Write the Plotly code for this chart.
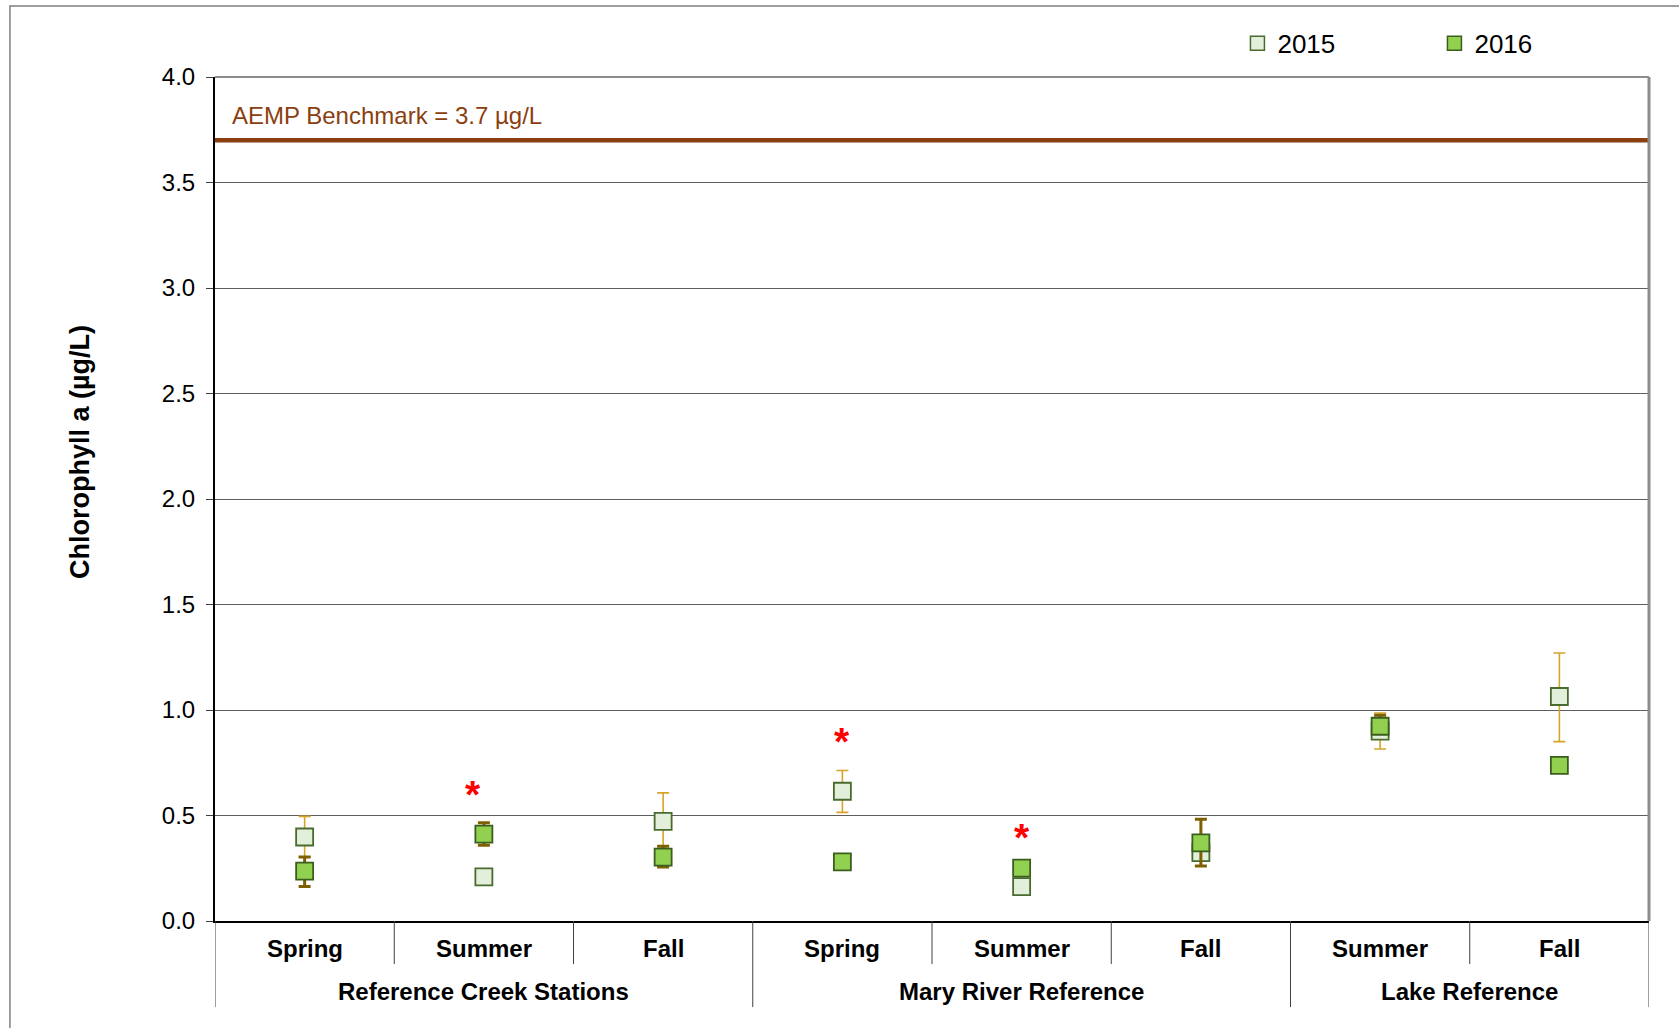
import plotly.graph_objects as go

# Sampling periods (x positions 0..7) grouped by station area
seasons = ["Spring", "Summer", "Fall", "Spring", "Summer", "Fall", "Summer", "Fall"]
areas = ["Reference Creek Stations", "Mary River Reference", "Lake Reference"]
area_spans = [(0, 2), (3, 5), (6, 7)]

# Mean chlorophyll a (µg/L) with upper / lower error lengths
chl_2015 = [0.398, 0.209, 0.472, 0.615, 0.163, 0.324, 0.900, 1.064]
err_2015_plus = [0.098, 0.0, 0.135, 0.098, 0.0, 0.03, 0.086, 0.206]
err_2015_minus = [0.095, 0.0, 0.118, 0.100, 0.0, 0.03, 0.085, 0.214]

chl_2016 = [0.236, 0.412, 0.303, 0.280, 0.251, 0.370, 0.923, 0.738]
err_2016_plus = [0.067, 0.054, 0.051, 0.0, 0.0, 0.112, 0.052, 0.0]
err_2016_minus = [0.072, 0.053, 0.047, 0.0, 0.0, 0.109, 0.03, 0.0]

# Significant-difference flags (position index, height of the asterisk)
flag_x = [1, 3, 4]
flag_y = [0.62, 0.869, 0.414]
flag_xshift = [-11, 0, 0]

benchmark = 3.7
benchmark_label = "AEMP Benchmark = 3.7 µg/L"

y_ticks = [0.0, 0.5, 1.0, 1.5, 2.0, 2.5, 3.0, 3.5, 4.0]

FONT = "Liberation Sans, Arial, sans-serif"
x_pos = list(range(len(seasons)))

STYLE_2015 = dict(fill="#E2EFDA", edge="#4A6B2E", err="#D4A52A", err_w=1.6)
STYLE_2016 = dict(fill="#92D050", edge="#3B5E1F", err="#7F6000", err_w=3)

fig = go.Figure()

for year, vals, ep, em, st in [("2015", chl_2015, err_2015_plus, err_2015_minus, STYLE_2015),
                               ("2016", chl_2016, err_2016_plus, err_2016_minus, STYLE_2016)]:
    fig.add_trace(go.Scatter(
        x=x_pos, y=vals, mode="markers", name=year, showlegend=False,
        marker=dict(symbol="square", size=17, color=st["fill"],
                    line=dict(color=st["edge"], width=1.8)),
        error_y=dict(type="data", symmetric=False, array=ep, arrayminus=em,
                     color=st["err"], thickness=st["err_w"], width=6),
    ))
    # legend key with a smaller square
    fig.add_trace(go.Scatter(
        x=[None], y=[None], mode="markers", name=year, showlegend=True,
        marker=dict(symbol="square", size=14, color=st["fill"],
                    line=dict(color=st["edge"], width=1.5)),
    ))

shapes = []
annotations = []

# Benchmark line and label
shapes.append(dict(type="line", xref="paper", x0=0, x1=1, yref="y",
                   y0=benchmark, y1=benchmark,
                   line=dict(color="#8B3F10", width=4.5)))
annotations.append(dict(text=benchmark_label, xref="paper", x=0, xanchor="left",
                        xshift=15, yref="y", y=benchmark, yanchor="middle",
                        yshift=25, showarrow=False,
                        font=dict(family=FONT, size=24, color="#8B3F10")))

# Top and right frame of the plot area
shapes.append(dict(type="line", xref="paper", x0=0, x1=1, yref="paper", y0=1, y1=1,
                   line=dict(color="#8C8C8C", width=2)))
shapes.append(dict(type="line", xref="paper", x0=1, x1=1, yref="paper", y0=0, y1=1,
                   line=dict(color="#8C8C8C", width=3)))

# Category dividers below the axis
inner_bounds = [0.5, 1.5, 3.5, 4.5, 6.5]
outer_bounds = [-0.5, 2.5, 5.5, 7.5]
for b in inner_bounds:
    shapes.append(dict(type="line", xref="x", x0=b, x1=b, yref="paper",
                       y0=0, y1=-0.051, line=dict(color="#404040", width=1)))
for b in outer_bounds:
    shapes.append(dict(type="line", xref="x", x0=b, x1=b, yref="paper",
                       y0=0, y1=-0.102, line=dict(color="#404040", width=1)))

# Season and area labels
for i, s in enumerate(seasons):
    annotations.append(dict(text=s, xref="x", x=i, yref="paper", y=-0.033,
                            yanchor="middle", showarrow=False,
                            font=dict(family=FONT, size=24, color="black",
                                      weight="bold")))
for name, (a, b) in zip(areas, area_spans):
    annotations.append(dict(text=name, xref="x", x=(a + b) / 2, yref="paper",
                            y=-0.083, yanchor="middle", showarrow=False,
                            font=dict(family=FONT, size=24, color="black",
                                      weight="bold")))

# Asterisks marking significant differences
for xi, yi, xs in zip(flag_x, flag_y, flag_xshift):
    annotations.append(dict(text="*", xref="x", x=xi, yref="y", y=yi,
                            yanchor="middle", xshift=xs, yshift=-4,
                            showarrow=False,
                            font=dict(family=FONT, size=39, color="#FF0000",
                                      weight="bold")))

# Y-axis title
annotations.append(dict(text="Chlorophyll a (µg/L)", xref="paper", x=-0.094,
                        yref="paper", y=0.556, textangle=-90, showarrow=False,
                        xanchor="center", yanchor="middle",
                        font=dict(family=FONT, size=27, color="black",
                                  weight="bold")))

# Outer chart border
shapes.append(dict(type="rect", xref="paper", yref="paper",
                   x0=-0.143, x1=1.05, y0=-0.2, y1=1.084,
                   line=dict(color="#808080", width=1.5)))

fig.update_layout(
    width=1679, height=1028,
    margin=dict(l=215, r=30, t=77, b=107),
    paper_bgcolor="white", plot_bgcolor="white",
    font=dict(family=FONT, color="black"),
    showlegend=True,
    legend=dict(orientation="h", x=0.713, xanchor="left", y=1.04,
                yanchor="middle", xref="paper", yref="paper",
                font=dict(family=FONT, size=26, color="black"),
                itemsizing="trace", entrywidth=152, entrywidthmode="pixels",
                bgcolor="rgba(0,0,0,0)"),
    xaxis=dict(range=[-0.5, 7.5], showticklabels=False, showgrid=False,
               zeroline=False, showline=True, linecolor="black", linewidth=2,
               ticks=""),
    yaxis=dict(range=[0, 4.0], tickvals=y_ticks,
               ticktext=[f"{v:.1f}" for v in y_ticks],
               showgrid=True, gridcolor="#5E5E5E", gridwidth=1,
               zeroline=False, showline=True, linecolor="black", linewidth=2,
               ticks="outside", ticklen=7, tickcolor="#404040",
               ticklabelstandoff=6,
               tickfont=dict(family=FONT, size=24, color="black")),
    shapes=shapes,
    annotations=annotations,
)

fig.write_html("out.html")
